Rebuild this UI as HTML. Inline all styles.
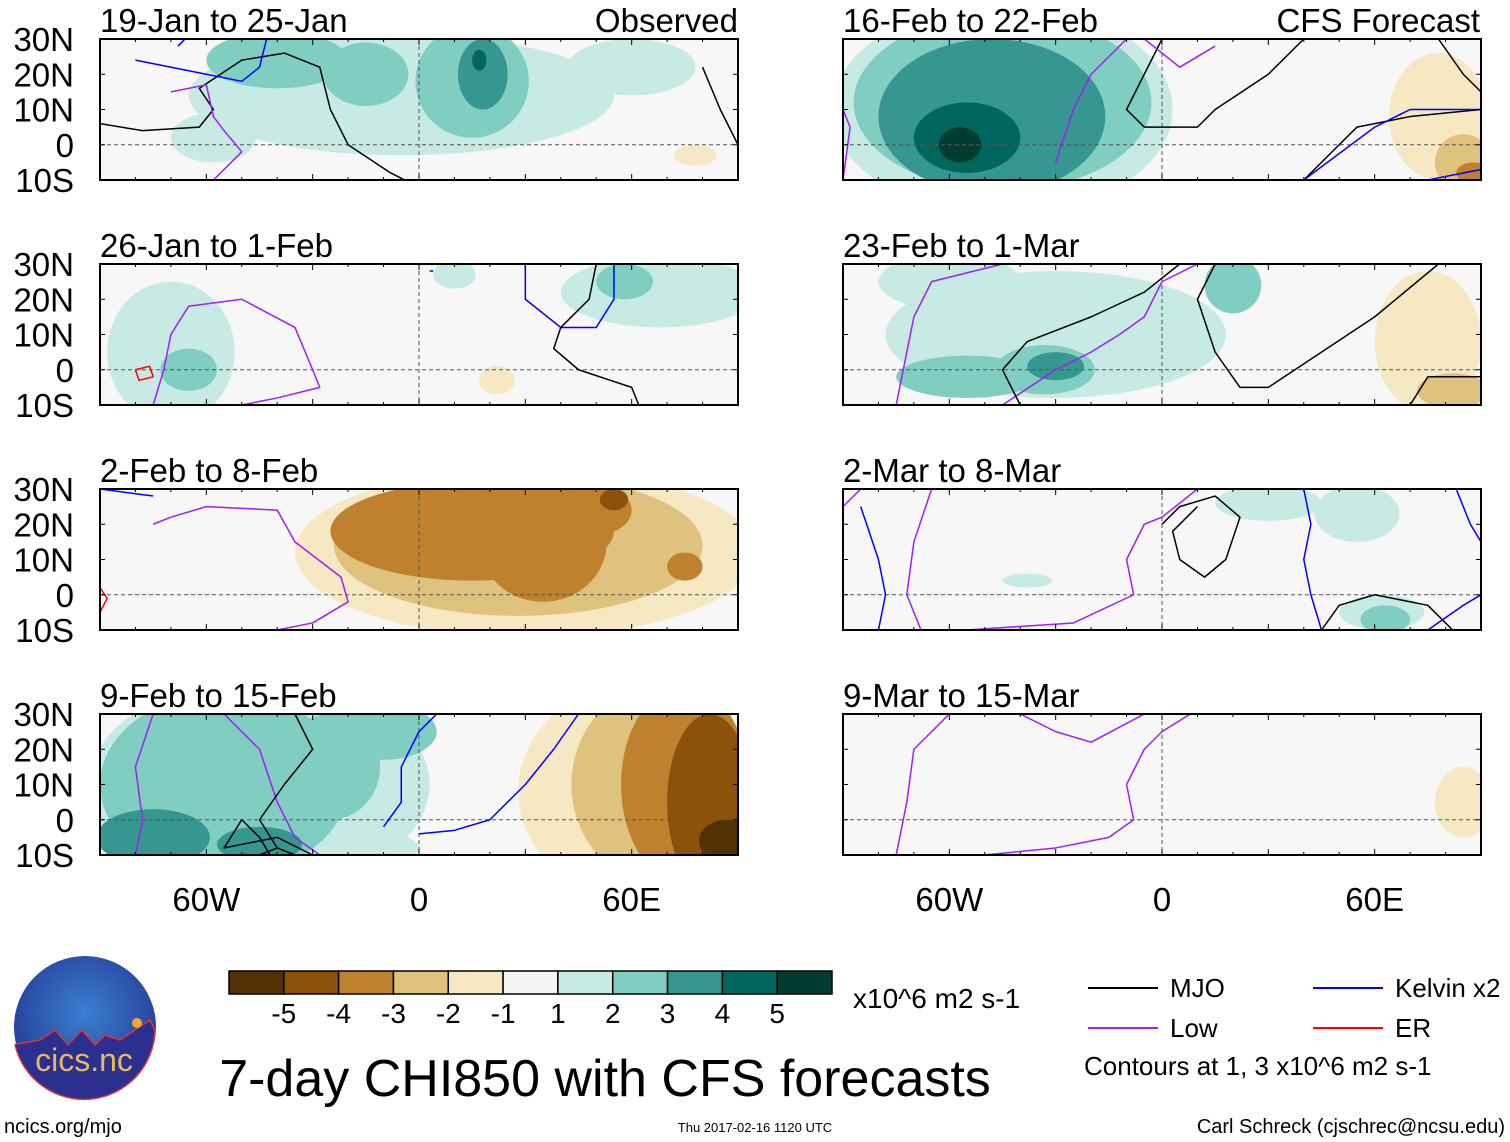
<!DOCTYPE html>
<html><head><meta charset="utf-8"><style>
body{margin:0;background:#fff;width:1510px;height:1142px;overflow:hidden;font-family:"Liberation Sans",sans-serif}
svg{position:absolute;left:0;top:0}
</style></head><body>
<svg id="s" width="1510" height="1142" xmlns="http://www.w3.org/2000/svg" font-family="Liberation Sans, sans-serif"></svg>
<script>
const NS="http://www.w3.org/2000/svg";
const palette=["#543005","#8c510a","#bf812d","#dfc27d","#f6e8c3","#f5f5f5","#c7eae5","#80cdc1","#35978f","#01665e","#003c30"];
const cbLabels=["-5","-4","-3","-2","-1","1","2","3","4","5"];
const yTicks=["30N","20N","10N","0","10S"];
const yTickLats=[30,20,10,0,-10];
const xTicks=["60W","0","60E"];
const xTickLons=[-60,0,60];
const panelTitles=["19-Jan to 25-Jan","16-Feb to 22-Feb","26-Jan to 1-Feb","23-Feb to 1-Mar","2-Feb to 8-Feb","2-Mar to 8-Mar","9-Feb to 15-Feb","9-Mar to 15-Mar"];
// anomaly blobs: [lon, lat, halfWidthDeg, halfHeightDeg, level(-5..5)]
const blobs0=[[-5,14,60,17,1],[-58,2,12,7,1],[60,22,18,8,1],[-40,24,20,8,2],[15,18,16,16,2],[-15,20,12,9,2],[18,20,7,10,3],[17,24,2,3,4],[78,-3,6,3,-1]];
const blobs1=[[-45,10,48,30,1],[-45,12,42,25,2],[-48,8,32,22,3],[-55,2,15,10,4],[-57,0,6,5,5],[78,8,14,18,-1],[85,-5,8,8,-2],[88,-8,5,3,-3]];
const blobs2=[[-70,5,18,20,1],[-65,0,8,6,2],[68,22,28,10,1],[58,25,8,5,2],[10,27,6,4,1],[22,-3,5,4,-1]];
const blobs3=[[-30,10,48,18,1],[-55,-2,20,6,2],[-33,0,14,7,2],[-30,1,8,4,3],[20,24,8,8,2],[75,8,15,20,-1],[82,-6,10,5,-2],[-60,25,20,8,1]];
const blobs4=[[30,12,65,24,-1],[28,14,52,20,-2],[15,18,40,14,-3],[35,15,18,17,-3],[50,24,10,7,-3],[55,27,4,3,-4],[75,8,5,4,-3],[-10,0,12,4,-1]];
const blobs5=[[62,-5,12,5,1],[63,-7,7,4,2],[-38,4,7,2,1],[30,26,15,5,1],[55,23,12,8,1]];
const blobs6=[[-45,10,48,30,1],[-55,10,35,26,2],[-75,-5,16,8,3],[-45,-7,12,5,3],[-25,15,14,15,2],[-10,25,15,8,2],[60,8,32,30,-1],[68,10,25,28,-2],[75,10,18,28,-3],[82,5,12,25,-4],[87,-6,8,6,-5],[-10,-8,10,4,1]];
const blobs7=[[85,5,8,10,-1]];
const allBlobs=[blobs0,blobs1,blobs2,blobs3,blobs4,blobs5,blobs6,blobs7];
// contours: [type, [[lon,lat],...]]
const lines0=[["mjo",[[-90,6],[-78,4],[-62,5],[-58,10],[-62,16],[-50,24],[-38,26],[-28,22],[-25,10],[-20,0],[-8,-8],[0,-12]]],["mjo",[[80,22],[85,10],[90,0]]],["kelvin",[[-80,24],[-60,20],[-50,18],[-45,22],[-43,30]]],["kelvin",[[-68,28],[-66,30]]],["low",[[-70,15],[-60,17],[-58,8],[-55,4],[-50,-2],[-58,-10]]]];
const lines1=[["low",[[-90,10],[-88,5],[-90,-10]]],["low",[[-30,-5],[-25,10],[-20,20],[-10,30]]],["mjo",[[0,30],[-5,20],[-10,10],[-5,5],[10,5],[15,10],[30,20],[40,30]]],["mjo",[[40,-10],[55,5],[70,8],[90,10]]],["mjo",[[78,30],[85,20],[90,15]]],["kelvin",[[40,-10],[60,5],[70,10],[90,10]]],["kelvin",[[75,-10],[90,-7]]],["low",[[-5,30],[5,22],[15,28]]]];
const lines2=[["low",[[-75,-10],[-72,0],[-70,10],[-65,18],[-50,20],[-35,12],[-30,0],[-28,-5],[-40,-8],[-50,-10]]],["er",[[-80,0],[-76,1],[-75,-2],[-79,-3],[-80,0]]],["kelvin",[[30,30],[30,20],[40,12],[50,12],[55,20],[55,30]]],["mjo",[[50,30],[48,20],[40,12],[38,6],[45,0],[60,-5],[62,-10]]],["kelvin",[[3,28],[4,28]]]];
const lines3=[["low",[[-75,-10],[-72,5],[-70,15],[-65,25],[-45,30]]],["low",[[-45,-10],[-30,0],[-20,5],[-12,10],[-5,15],[0,25],[10,30]]],["mjo",[[-40,-10],[-45,0],[-38,8],[-20,15],[-5,22],[5,30]]],["mjo",[[15,30],[10,20],[15,5],[22,-5],[30,-5],[45,5],[60,15],[78,30]]],["mjo",[[70,-10],[75,-2],[90,-2]]]];
const lines4=[["low",[[-75,20],[-70,22],[-60,25],[-40,24],[-35,15],[-22,5],[-20,-2],[-30,-8],[-40,-10]]],["kelvin",[[-90,30],[-75,28]]],["er",[[-90,-5],[-88,-1],[-90,2]]]];
const lines5=[["low",[[-68,-10],[-72,0],[-70,15],[-65,30]]],["low",[[-55,-10],[-25,-8],[-8,0],[-10,10],[-5,20],[0,22],[10,30]]],["mjo",[[0,20],[5,25],[15,28],[22,22],[18,10],[12,5],[5,10],[3,18],[10,25]]],["kelvin",[[-80,-10],[-78,0],[-80,10],[-85,25]]],["kelvin",[[45,-10],[42,0],[40,10],[42,20],[40,30]]],["mjo",[[45,-10],[50,-3],[60,0],[75,-3],[82,-10]]],["kelvin",[[75,-10],[85,-3],[90,0]]],["kelvin",[[83,30],[87,20],[90,15]]],["low",[[-90,25],[-85,30]]]];
const lines6=[["low",[[-75,30],[-80,15],[-78,0],[-80,-10]]],["low",[[-55,30],[-45,20],[-40,5],[-35,-5],[-28,-10]]],["mjo",[[-42,-10],[-45,-5],[-50,0],[-55,-8],[-40,-5],[-30,-10]]],["mjo",[[-35,30],[-30,20],[-38,10],[-45,0],[-40,-8]]],["kelvin",[[-10,-2],[-5,5],[-5,15],[0,25],[5,30]]],["kelvin",[[0,-4],[10,-3],[20,0],[30,10],[38,20],[45,30]]],["mjo",[[-35,-10],[-40,-8],[-45,-10]]]];
const lines7=[["low",[[-75,-10],[-72,5],[-70,20],[-60,30]]],["low",[[-50,-10],[-30,-8],[-15,-5],[-8,0],[-10,10],[-5,20],[0,25],[8,30]]],["low",[[-40,30],[-30,25],[-20,22],[-5,30]]]];
const allLines=[lines0,lines1,lines2,lines3,lines4,lines5,lines6,lines7];
const lineColors={mjo:"#000",kelvin:"#0000ff",low:"#a020f0",er:"#ff0000"};

const s=document.getElementById("s");
function el(tag,attrs,parent){const e=document.createElementNS(NS,tag);for(const k in attrs)e.setAttribute(k,attrs[k]);(parent||s).appendChild(e);return e;}
function txt(x,y,str,size,anchor,parent){const t=el("text",{x:x,y:y,"font-size":size,"text-anchor":anchor||"start",fill:"#000"},parent);t.textContent=str;return t;}

const colX=[100,843],rowY=[39,264,489,714],PW=638,PH=141;
allBlobs.forEach((blobs,i)=>{
  const L=colX[i%2],T=rowY[Math.floor(i/2)];
  const xs=lon=>L+(lon+90)*PW/180, ys=lat=>T+(30-lat)*PH/40;
  const g=el("g",{});
  
  
  const clip=el("clipPath",{id:"c"+i},g);
  el("rect",{x:L,y:T,width:PW,height:PH},clip);
  el("rect",{x:L,y:T,width:PW,height:PH,fill:"#f7f7f7"},g);
  const cg=el("g",{"clip-path":"url(#c"+i+")"},g);
  const sorted=blobs.slice().sort((a,b)=>Math.abs(a[4])-Math.abs(b[4]));
  sorted.forEach(b=>{
    const c=el("ellipse",{cx:xs(b[0]),cy:ys(b[1]),rx:b[2]*PW/180,ry:b[3]*PH/40,fill:palette[b[4]+5]},cg);
    
    
  });
  el("line",{x1:L,x2:L+PW,y1:ys(0),y2:ys(0),stroke:"#555","stroke-dasharray":"4,3","stroke-width":1},cg);
  el("line",{x1:xs(0),x2:xs(0),y1:T,y2:T+PH,stroke:"#555","stroke-dasharray":"4,3","stroke-width":1},cg);
  allLines[i].forEach(ln=>{
    const p=el("polyline",{points:ln[1].map(q=>xs(q[0])+","+ys(q[1])).join(" "),fill:"none",stroke:lineColors[ln[0]],"stroke-width":1.5,"stroke-linejoin":"round"},cg);
    
    
  });
  el("rect",{x:L,y:T,width:PW,height:PH,fill:"none",stroke:"#000","stroke-width":2},g);
  for(let lon=-90;lon<=90;lon+=10){el("line",{x1:xs(lon),x2:xs(lon),y1:T,y2:T+(lon%30?3:6),stroke:"#000"},g);el("line",{x1:xs(lon),x2:xs(lon),y1:T+PH,y2:T+PH-(lon%30?3:6),stroke:"#000"},g);}
  for(let lat=-10;lat<=30;lat+=10){el("line",{x1:L,x2:L+5,y1:ys(lat),y2:ys(lat),stroke:"#000"},g);el("line",{x1:L+PW,x2:L+PW-5,y1:ys(lat),y2:ys(lat),stroke:"#000"},g);}
  const tt=txt(L,T-7,panelTitles[i],33,"start");
  
  if(i%2===0){yTicks.forEach((t,k)=>{const e=txt(74,ys(yTickLats[k])+12,t,33,"end");});}
  if(i>=6){xTicks.forEach((t,k)=>{const e=txt(xs(xTickLons[k]),911,t,33,"middle");});}
});
let e=txt(738,32,"Observed",33,"end");
e=txt(1480,32,"CFS Forecast",33,"end");

// colorbar
const cbX=229,cbW=603/11;
palette.forEach((c,k)=>{const r=el("rect",{x:cbX+k*cbW,y:971,width:cbW,height:23,fill:c,stroke:"#000","stroke-width":1.5});});
cbLabels.forEach((t,k)=>{const e=txt(cbX+(k+1)*cbW,1023,t,28,"middle");});
e=txt(853,1008,"x10^6 m2 s-1",28,"start");
e=txt(605,1096,"7-day CHI850 with CFS forecasts",52,"middle");
// legend
[["MJO","mjo",1088,988],["Low","low",1088,1028],["Kelvin x2","kelvin",1313,988],["ER","er",1313,1028]].forEach(l=>{
  const g=el("g",{});
  el("line",{x1:l[2],x2:l[2]+70,y1:l[3],y2:l[3],stroke:lineColors[l[1]],"stroke-width":2},g);
  txt(l[2]+82,l[3]+9,l[0],26,"start",g);
});
e=txt(1084,1075,"Contours at 1, 3 x10^6 m2 s-1",26,"start");
e=txt(4,1133,"ncics.org/mjo",20,"start");
e=txt(755,1132,"Thu 2017-02-16 1120 UTC",13,"middle");
e=txt(1505,1133,"Carl Schreck (cjschrec@ncsu.edu)",20,"end");
// logo
const lg=el("g",{});
el("defs",{},lg).innerHTML='<radialGradient id="lgg" cx="50%" cy="40%" r="60%"><stop offset="0" stop-color="#3b7fd0"/><stop offset="1" stop-color="#233a96"/></radialGradient>';
el("circle",{cx:85,cy:1027,r:71,fill:"url(#lgg)"},lg);
el("path",{d:"M16 1044 L40 1040 L55 1030 L68 1045 L82 1030 L95 1045 L105 1035 L120 1040 L150 1020 L155 1030 A71 71 0 0 1 15 1045 Z",fill:"#2b2f8f",stroke:"#d33","stroke-width":1.5},lg);
el("circle",{cx:137,cy:1023,r:5,fill:"#f0a830"},lg);
txt(84,1071,"cics.nc",32,"middle",lg).setAttribute("fill","#e8b860");
</script>
</body></html>
